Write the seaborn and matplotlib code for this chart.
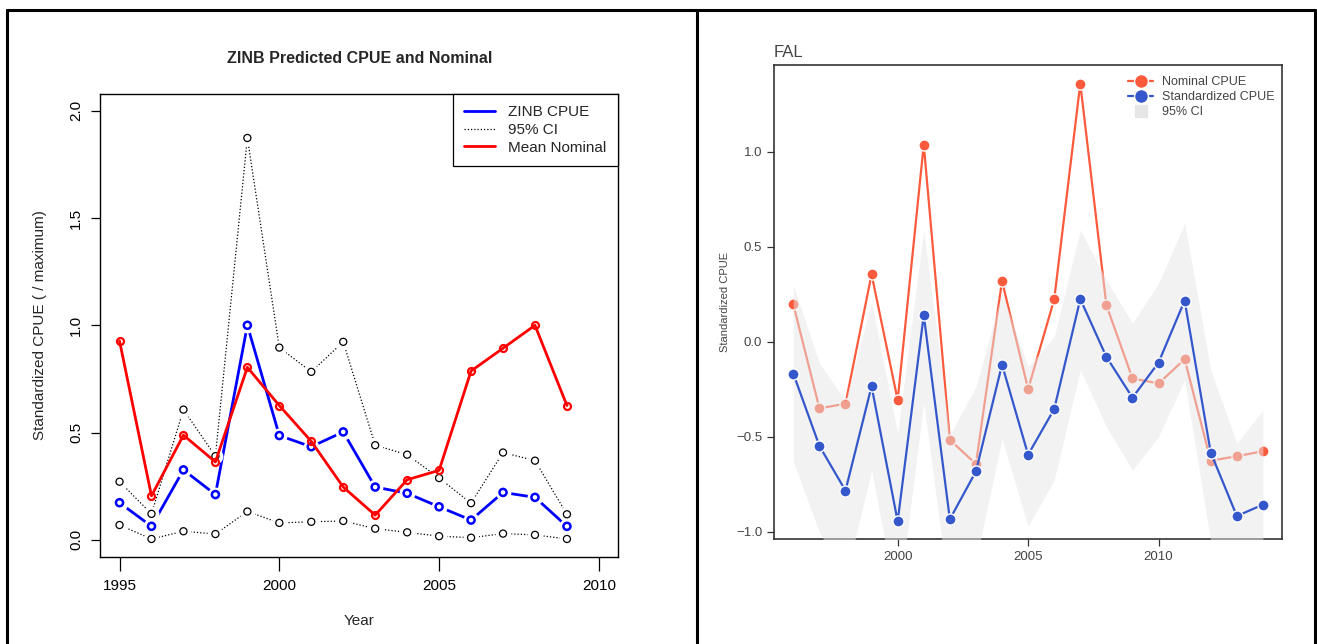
import numpy as np
import pandas as pd
import seaborn as sns
import matplotlib.pyplot as plt
from matplotlib.lines import Line2D

# left panel: ZINB model vs nominal, 1995-2009
zinb_years = list(range(1995, 2010))
zinb_cpue = [0.173, 0.063, 0.326, 0.211, 1.0, 0.486, 0.434, 0.503, 0.246,
             0.217, 0.154, 0.092, 0.221, 0.198, 0.063]
ci_upper = [0.271, 0.121, 0.607, 0.39, 1.873, 0.896, 0.783, 0.923, 0.441,
            0.397, 0.288, 0.171, 0.407, 0.369, 0.119]
ci_lower = [0.069, 0.004, 0.04, 0.027, 0.132, 0.079, 0.084, 0.088, 0.052,
            0.035, 0.017, 0.01, 0.029, 0.023, 0.004]
mean_nominal = [0.927, 0.205, 0.488, 0.363, 0.804, 0.626, 0.459, 0.246, 0.115,
                0.280, 0.324, 0.787, 0.893, 1.0, 0.626]

# right panel: FAL, 1996-2014
fal_years = list(range(1996, 2015))
fal_nominal = [0.198, -0.349, -0.325, 0.356, -0.306, 1.039, -0.515, -0.642,
               0.321, -0.248, 0.224, 1.360, 0.194, -0.192, -0.218, -0.091,
               -0.625, -0.601, -0.575]
fal_standard = [-0.166, -0.547, -0.782, -0.233, -0.944, 0.142, -0.933, -0.681,
                -0.119, -0.593, -0.353, 0.226, -0.078, -0.293, -0.108, 0.218,
                -0.582, -0.916, -0.856]
fal_ci_upper = [0.30, -0.112, -0.31, 0.212, -0.48, 0.59, -0.49, -0.235,
                0.26, -0.13, 0.028, 0.59, 0.326, 0.098, 0.309, 0.625,
                -0.147, -0.533, -0.358]
fal_ci_lower = [-0.63, -1.0, -1.25, -0.674, -1.4, -0.32, -1.36, -1.15,
                -0.51, -0.97, -0.726, -0.147, -0.446, -0.674, -0.498, -0.2,
                -1.05, -1.2, -1.1]

sns.set_style("ticks")
plt.rcParams['font.family'] = ['Liberation Sans', 'DejaVu Sans']

fig = plt.figure(figsize=(13.17, 6.44), dpi=100)
ax1 = fig.add_axes([0.0762, 0.1351, 0.3931, 0.7196])
ax2 = fig.add_axes([0.5877, 0.1630, 0.3857, 0.7361])

# ---------- left panel (R base graphics look) ----------
left = pd.DataFrame({'year': zinb_years, 'zinb': zinb_cpue, 'upper': ci_upper,
                     'lower': ci_lower, 'nominal': mean_nominal})

for col in ['upper', 'lower']:
    sns.lineplot(data=left, x='year', y=col, ax=ax1, color='black', lw=0.9,
                 linestyle=(0, (1, 1.6)), zorder=2)
sns.lineplot(data=left, x='year', y='zinb', ax=ax1, color='blue', lw=2, zorder=2)

# white halos give the gaps of R's type="b"
for col in ['upper', 'lower', 'zinb']:
    ax1.scatter(left['year'], left[col], s=130, color='white', linewidths=0, zorder=3)
for col in ['upper', 'lower']:
    ax1.scatter(left['year'], left[col], s=26, facecolors='none',
                edgecolors='black', linewidths=0.9, zorder=4)
ax1.scatter(left['year'], left['zinb'], s=26, facecolors='none',
            edgecolors='blue', linewidths=1.8, zorder=4)

sns.lineplot(data=left, x='year', y='nominal', ax=ax1, color='red', lw=2,
             marker='o', markersize=5, markerfacecolor='none',
             markeredgecolor='red', markeredgewidth=1.6, zorder=5)

ax1.set_xlim(1994.4, 2010.6)
ax1.set_ylim(-0.08, 2.08)
ax1.set_xticks([1995, 2000, 2005, 2010])
ax1.set_yticks([0, 0.5, 1.0, 1.5, 2.0])
ax1.set_yticklabels(['0.0', '0.5', '1.0', '1.5', '2.0'])
ax1.tick_params(axis='x', direction='out', length=10, width=0.9,
                labelsize=11, pad=6, colors='black')
ax1.tick_params(axis='y', direction='out', length=6.5, width=0.9,
                labelsize=11, pad=6, colors='black')
for lbl in ax1.get_yticklabels():
    lbl.set_rotation(90)
    lbl.set_va('center')
for sp in ax1.spines.values():
    sp.set_visible(True)
    sp.set_color('black')
    sp.set_linewidth(1.0)
ax1.set_xlabel('Year', fontsize=11)
ax1.set_ylabel('Standardized CPUE ( / maximum)', fontsize=11)
ax1.xaxis.set_label_coords(0.5, -0.122)
ax1.yaxis.set_label_coords(-0.103, 0.5)
ax1.set_title('ZINB Predicted CPUE and Nominal', fontsize=11.5,
              fontweight='bold', pad=22)

left_handles = [Line2D([], [], color='blue', lw=2),
                Line2D([], [], color='black', lw=0.9, linestyle=(0, (1, 1.6))),
                Line2D([], [], color='red', lw=2)]
leg1 = ax1.legend(left_handles, ['ZINB CPUE', '95% CI', 'Mean Nominal'],
                  loc='upper right', borderaxespad=0, fancybox=False,
                  edgecolor='black', framealpha=1, fontsize=11,
                  handlelength=2.0, handletextpad=0.9, labelspacing=0.25,
                  borderpad=0.75)
leg1.get_frame().set_linewidth(0.9)

# ---------- right panel ----------
right = pd.DataFrame({'year': fal_years, 'nominal': fal_nominal,
                      'standard': fal_standard, 'upper': fal_ci_upper,
                      'lower': fal_ci_lower})
red = '#fb5a3c'
blue = '#3557cc'
txt = '#444444'

sns.lineplot(data=right, x='year', y='nominal', ax=ax2, color=red, lw=1.6,
             marker='o', markersize=8, markeredgecolor='white',
             markeredgewidth=1.0, zorder=2)
ax2.fill_between(right['year'], right['lower'], right['upper'],
                 color='#e6e6e6', alpha=0.5, lw=0, zorder=3)
sns.lineplot(data=right, x='year', y='standard', ax=ax2, color=blue, lw=1.6,
             marker='o', markersize=8, markeredgecolor='white',
             markeredgewidth=1.0, zorder=4)

ax2.set_xlim(1995.26, 2014.73)
ax2.set_ylim(-1.037, 1.458)
ax2.set_xticks([2000, 2005, 2010])
ax2.set_yticks([-1.0, -0.5, 0.0, 0.5, 1.0])
ax2.tick_params(axis='both', direction='out', length=5, width=0.9,
                labelsize=9.5, colors='#333333', labelcolor=txt)
for sp in ax2.spines.values():
    sp.set_visible(True)
    sp.set_color('#333333')
    sp.set_linewidth(1.2)
ax2.set_xlabel('')
ax2.set_ylabel('Standardized CPUE', fontsize=8, color=txt, labelpad=4)
ax2.set_title('FAL', loc='left', fontsize=12, color=txt, pad=6)

right_handles = [Line2D([], [], color=red, lw=1.6, marker='o', markersize=10,
                        markeredgecolor='white'),
                 Line2D([], [], color=blue, lw=1.6, marker='o', markersize=10,
                        markeredgecolor='white'),
                 Line2D([], [], color='#e6e6e6', lw=0, marker='s', markersize=9)]
leg2 = ax2.legend(right_handles, ['Nominal CPUE', 'Standardized CPUE', '95% CI'],
                  loc='upper left', bbox_to_anchor=(0.697, 0.977), frameon=False,
                  fontsize=9, handlelength=2.0, handletextpad=0.7,
                  labelspacing=0.25, borderpad=0, borderaxespad=0)
for t in leg2.get_texts():
    t.set_color(txt)

# panel borders
fig.add_artist(Line2D([7 / 1317, 1315 / 1317], [1 - 9.5 / 644, 1 - 9.5 / 644],
                      color='black', lw=2.2, transform=fig.transFigure))
for xp in [7, 697, 1315]:
    fig.add_artist(Line2D([xp / 1317, xp / 1317], [0, 1 - 9.5 / 644],
                          color='black', lw=2.2, transform=fig.transFigure))

fig.savefig('out.png', dpi=100)
